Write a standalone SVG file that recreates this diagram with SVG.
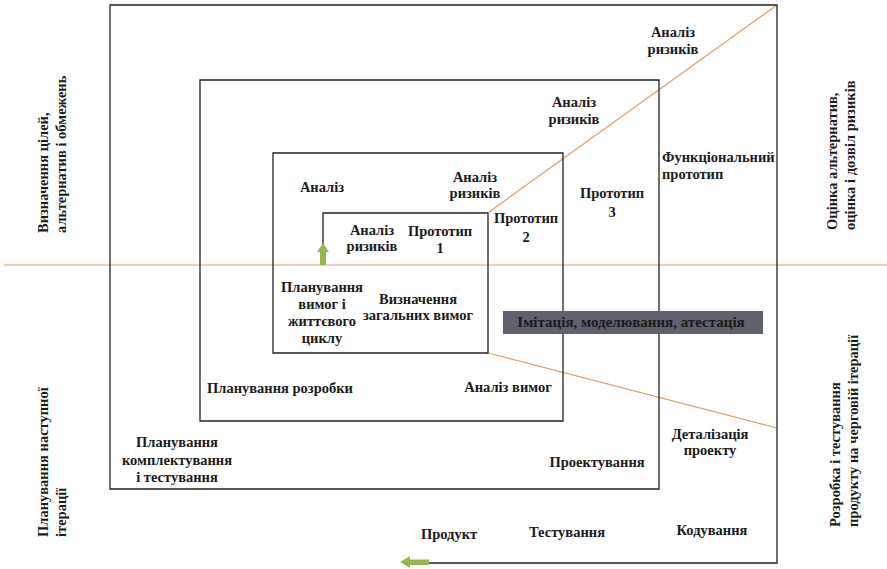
<svg xmlns="http://www.w3.org/2000/svg" width="887" height="569" viewBox="0 0 887 569">
  <style>
    .c { text-anchor: middle; }
    .spiral { fill: none; stroke: #222; stroke-width: 1.3; }
    .axis { fill: none; stroke: #d9a06a; stroke-width: 1.2; }
    .arrow { fill: #94b84f; }
  </style>
  <rect width="887" height="569" fill="#ffffff"/>

  <g id="connectors">
    <!-- quadrant axis and sector lines -->
    <line class="axis" x1="4" y1="265" x2="887" y2="265"/>
    <line class="axis" x1="489" y1="212" x2="777" y2="5"/>
    <line class="axis" x1="488" y1="353" x2="777" y2="428"/>
    <!-- rectangular spiral -->
    <polyline class="spiral" points="323,247 323,213 488,213 488,353 273,353 273,153 563,153 563,421 200,421 200,80 659,80 659,489 110,489 110,5 777,5 777,563 428,563"/>
    <!-- start arrow (up) -->
    <polygon class="arrow" points="323,243 329,252 326,252 326,265 320,265 320,252 317,252"/>
    <!-- end arrow (left) -->
    <polygon class="arrow" points="400,562 410,556 410,559.5 429,559.5 429,565 410,565 410,568"/>
  </g>

  <g font-family="Liberation Serif, Times New Roman, serif" font-weight="bold" font-size="14.5" fill="#1a1a1a">
    <g id="side-labels">
      <text transform="translate(48,233) rotate(-90)">Визначення цілей,</text>
      <text transform="translate(66,233) rotate(-90)">альтернатив і обмежень</text>
      <text transform="translate(48,537) rotate(-90)">Планування наступної</text>
      <text transform="translate(66,537) rotate(-90)">ітерації</text>
      <text transform="translate(837,230) rotate(-90)">Оцінка альтернатив,</text>
      <text transform="translate(855,230) rotate(-90)">оцінка і дозвіл ризиків</text>
      <text transform="translate(840,527) rotate(-90)">Розробка і тестування</text>
      <text transform="translate(858,527) rotate(-90)">продукту на черговій ітерації</text>
    </g>

    <g id="n-risk4"><text class="c" x="673" y="37">Аналіз</text><text class="c" x="673" y="54">ризиків</text></g>
    <g id="n-risk3"><text class="c" x="574" y="107">Аналіз</text><text class="c" x="574" y="124">ризиків</text></g>
    <g id="n-risk2"><text class="c" x="475" y="182">Аналіз</text><text class="c" x="475" y="198">ризиків</text></g>
    <g id="n-risk1"><text class="c" x="372" y="235">Аналіз</text><text class="c" x="372" y="251">ризиків</text></g>
    <g id="n-analysis"><text class="c" x="322" y="192">Аналіз</text></g>
    <g id="n-proto1"><text class="c" x="440" y="236">Прототип</text><text class="c" x="440" y="253">1</text></g>
    <g id="n-proto2"><text class="c" x="526" y="223">Прототип</text><text class="c" x="526" y="242">2</text></g>
    <g id="n-proto3"><text class="c" x="612" y="198">Прототип</text><text class="c" x="612" y="217">3</text></g>
    <g id="n-func"><text x="662" y="162">Функціональний</text><text x="662" y="179">прототип</text></g>
    <g id="n-lifecycle">
      <text class="c" x="322" y="292">Планування</text>
      <text class="c" x="322" y="309">вимог і</text>
      <text class="c" x="322" y="326">життєвого</text>
      <text class="c" x="322" y="343">циклу</text>
    </g>
    <g id="n-reqdef"><text class="c" x="418" y="304">Визначення</text><text class="c" x="418" y="320">загальних вимог</text></g>
    <g id="n-sim">
      <rect x="503" y="311" width="260" height="23" fill="#5f616f"/>
      <text class="c" x="631" y="327" font-size="15">Імітація, моделювання, атестація</text>
    </g>
    <g id="n-devplan"><text x="207" y="393">Планування розробки</text></g>
    <g id="n-reqanalysis"><text class="c" x="508" y="392">Аналіз вимог</text></g>
    <g id="n-integration">
      <text class="c" x="177" y="447">Планування</text>
      <text class="c" x="177" y="465">комплектування</text>
      <text class="c" x="177" y="482">і тестування</text>
    </g>
    <g id="n-detail"><text class="c" x="710" y="439">Деталізація</text><text class="c" x="710" y="455">проекту</text></g>
    <g id="n-design"><text class="c" x="597" y="467">Проектування</text></g>
    <g id="n-product"><text class="c" x="449" y="539">Продукт</text></g>
    <g id="n-testing"><text class="c" x="567" y="537">Тестування</text></g>
    <g id="n-coding"><text class="c" x="712" y="535">Кодування</text></g>
  </g>
</svg>
